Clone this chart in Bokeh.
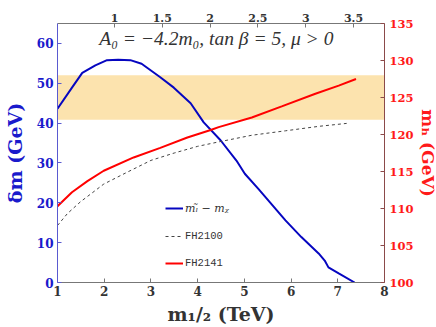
from bokeh.plotting import figure
from bokeh.models import (Range1d, LinearAxis, FixedTicker, BoxAnnotation, Label,
                          Legend, LegendItem)
from bokeh.embed import file_html
from bokeh.resources import INLINE

# ---- data ----
m12_dm = [1.0, 1.31, 1.53, 1.81, 2.06, 2.3, 2.56, 2.8, 3.2, 3.49, 3.85, 4.13, 4.49,
          4.83, 5.01, 5.3, 5.88, 6.22, 6.59, 6.72, 6.8, 7.02, 7.36]
dm = [43.6, 48.9, 52.6, 54.5, 55.8, 55.9, 55.8, 54.9, 51.5, 48.9, 45.0, 40.2, 35.7,
      30.6, 27.3, 23.5, 15.6, 11.4, 7.3, 5.5, 3.8, 2.3, 0.0]

m12_fh2100 = [1.0, 1.21, 1.49, 1.99, 2.49, 3.0, 3.5, 4.0, 4.45, 5.16, 5.88, 6.59, 7.19]
mh_fh2100 = [107.7, 109.3, 110.9, 113.3, 114.9, 116.5, 117.5, 118.4, 119.0, 119.9,
             120.5, 121.1, 121.5]

m12_fh2141 = [1.0, 1.31, 1.64, 1.99, 2.63, 3.2, 3.78, 4.28, 4.45, 5.16, 5.8, 6.52,
              7.02, 7.39]
mh_fh2141 = [110.3, 112.2, 113.7, 115.1, 116.9, 118.2, 119.6, 120.6, 121.0, 122.3,
             123.8, 125.5, 126.6, 127.5]

band_lo, band_hi = 122.0, 128.0

x_ticks = [1, 2, 3, 4, 5, 6, 7, 8]
dm_ticks = [0, 10, 20, 30, 40, 50, 60]
mh_ticks = [100, 105, 110, 115, 120, 125, 130, 135]
top_ticks = [1, 1.5, 2, 2.5, 3, 3.5]

title_text = "A\u2080 = \u22124.2m\u2080, tan \u03b2 = 5, \u03bc > 0"

BLUE = "#0606c0"
RED = "#ff0000"
SERIF = "DejaVu Serif"

p = figure(frame_width=327, frame_height=259, x_range=Range1d(1, 8),
           y_range=Range1d(0, 65), output_backend="svg", toolbar_location=None,
           min_border_left=57, min_border_right=52, min_border_top=23,
           min_border_bottom=45, background_fill_color="white",
           border_fill_color="white", outline_line_color=None)
p.extra_y_ranges = {"mh": Range1d(100, 135)}
p.extra_x_ranges = {"top": Range1d(0.404, 3.824)}
p.xgrid.visible = False
p.ygrid.visible = False

band = BoxAnnotation(bottom=band_lo, top=band_hi, y_range_name="mh",
                     fill_color="#fce3ae", fill_alpha=1.0, line_color=None,
                     level="underlay")
p.add_layout(band)

r_dm = p.line(m12_dm, dm, line_color=BLUE, line_width=2)
r_2100 = p.line(m12_fh2100, mh_fh2100, y_range_name="mh", line_color="#444444",
                line_width=1, line_dash="3 3")
r_2141 = p.line(m12_fh2141, mh_fh2141, y_range_name="mh", line_color=RED,
                line_width=2)


def style(ax, line_color, label_color, size="12px", label_size="19px"):
    ax.axis_line_color = line_color
    ax.major_tick_line_color = line_color
    ax.major_tick_in = 4
    ax.major_tick_out = 0
    ax.minor_tick_line_color = None
    ax.major_label_text_font = SERIF
    ax.major_label_text_font_style = "bold"
    ax.major_label_text_font_size = size
    ax.major_label_text_color = label_color
    ax.axis_label_text_font = SERIF
    ax.axis_label_text_font_style = "bold"
    ax.axis_label_text_font_size = label_size


# bottom axis
xa = p.xaxis[0]
xa.ticker = FixedTicker(ticks=x_ticks)
style(xa, "#777777", "#333333")
xa.axis_label = "m\u2081/\u2082 (TeV)"
xa.axis_label_text_color = "#333333"
xa.major_label_standoff = 3
xa.axis_label_standoff = 4

# left axis
ya = p.yaxis[0]
ya.ticker = FixedTicker(ticks=dm_ticks)
style(ya, "#5a5ad0", "#1a1acc")
ya.axis_label = "\u03b4m (GeV)"
ya.axis_label_text_color = "#1a1acc"
ya.major_label_standoff = 4
ya.axis_label_standoff = 8

# right axis
ry = LinearAxis(y_range_name="mh", ticker=FixedTicker(ticks=mh_ticks))
style(ry, "#8b4a4a", "#ff1a1a", size="11.5px", label_size="17px")
ry.axis_label = "m\u2095 (GeV)"
ry.axis_label_text_color = "#ff1a1a"
ry.major_label_standoff = 5
ry.axis_label_standoff = 1
p.add_layout(ry, "right")

# top axis
tx = LinearAxis(x_range_name="top", ticker=FixedTicker(ticks=top_ticks))
style(tx, "#777777", "#333333", size="11px")
tx.major_label_standoff = 2
p.add_layout(tx, "above")

title = Label(x=4.4, y=61.3, text=title_text, text_align="center",
              text_baseline="middle", text_font="Liberation Serif",
              text_font_style="italic", text_font_size="19.5px",
              text_color="#333333")
p.add_layout(title)

leg1 = Legend(items=[LegendItem(label="m\u2097\u0303 \u2212 m\u1d6a", renderers=[r_dm])],
              location=(108, 67), orientation="vertical")
leg2 = Legend(items=[LegendItem(label="FH2100", renderers=[r_2100]),
                     LegendItem(label="FH2141", renderers=[r_2141])],
              location=(108, 12), orientation="vertical")
for lg, font, style_ in ((leg1, SERIF, "italic"), (leg2, "Liberation Mono", "normal")):
    lg.background_fill_alpha = 0
    lg.border_line_color = None
    lg.padding = 0
    lg.margin = 0
    lg.glyph_width = 18
    lg.glyph_height = 14
    lg.label_height = 14
    lg.label_standoff = 2
    lg.spacing = 13
    lg.label_text_font = font
    lg.label_text_font_style = style_
    lg.label_text_font_size = "11px" if lg is leg1 else "10.5px"
    lg.label_text_color = "#333333"
    p.add_layout(lg, "center")

open("out.html", "w").write(file_html(p, INLINE))
